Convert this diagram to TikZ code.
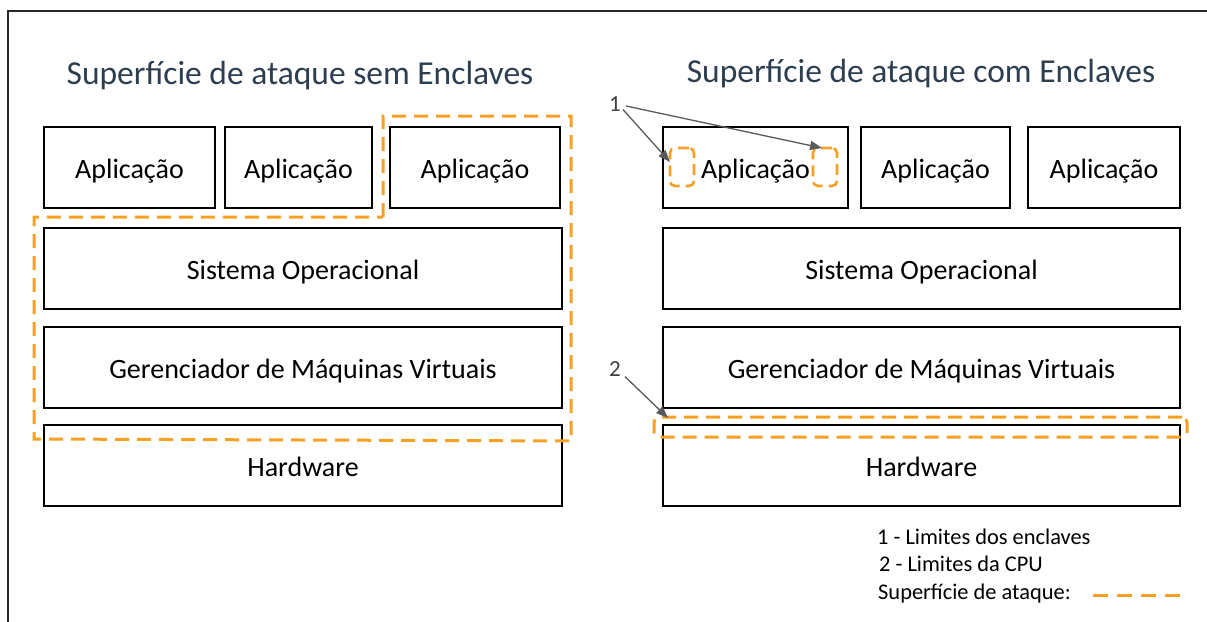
\documentclass[tikz,border=0pt]{standalone}
\usepackage{fontspec}
\setmainfont{Carlito}
\usetikzlibrary{arrows.meta}
\definecolor{attack}{RGB}{246,160,36}
\definecolor{titleblue}{RGB}{44,62,80}
\definecolor{pointer}{RGB}{90,90,90}
\definecolor{frame}{RGB}{40,40,40}
\begin{document}
\begin{tikzpicture}[x=1pt,y=-1pt,
  layer/.style={draw=black, line width=1.4pt, minimum width=#1, minimum height=81pt,
    inner sep=0pt, text height=21pt, text depth=0pt, font=\fontsize{28}{32}\selectfont},
  heading/.style={text=titleblue, inner sep=0pt, text height=24pt, text depth=0pt,
    font=\fontsize{33.5}{38}\selectfont},
  surface/.style={draw=attack, line width=3pt, dash pattern=on 14pt off 8pt},
  enclave/.style={draw=attack, line width=2.6pt, rounded corners=5pt,
    dash pattern=on 11pt off 6pt, minimum width=24pt, minimum height=38pt, inner sep=0pt},
  cpu/.style={draw=attack, line width=3pt, rounded corners=5pt,
    dash pattern=on 14pt off 8pt, minimum width=533pt, minimum height=20pt, inner sep=0pt},
  tag/.style={text=black!75, inner sep=0pt, font=\fontsize{23}{26}\selectfont},
  legend/.style={anchor=west, inner sep=0pt, text height=15pt, text depth=0pt,
    font=\fontsize{22.4}{26}\selectfont},
  pointer/.style={draw=pointer, line width=1.3pt, -{Triangle[length=12pt,width=9pt]}}
]
\clip (0,0) rectangle (1207,621);
\fill[white] (0,0) rectangle (1207,621);

% outer frame
\draw[frame, line width=1.6pt] (8,640) -- (8,11) -- (1230,11);

% left stack
\node[heading] (tl) at (300,72) {Superfície de ataque sem Enclaves};
\node[layer=171pt] (la1) at (129.5,167.5) {Aplicação};
\node[layer=147pt] (la2) at (298.5,167.5) {Aplicação};
\node[layer=170pt] (la3) at (475,167.5) {Aplicação};
\node[layer=518pt] (lso) at (303,268.5) {Sistema Operacional};
\node[layer=518pt] (lvm) at (303,367.5) {Gerenciador de Máquinas Virtuais};
\node[layer=518pt] (lhw) at (303,465.5) {Hardware};

% attack surface without enclaves
\draw[surface] (383,217) -- (383,116) -- (571,116) -- (571,441) -- (34,439) -- (34,217) -- cycle;

% right stack
\node[heading] (tr) at (921,70) {Superfície de ataque com Enclaves};
\node[layer=185pt] (ra1) at (755.5,167.5) {Aplicação};
\node[layer=149pt] (ra2) at (935.5,167.5) {Aplicação};
\node[layer=152pt] (ra3) at (1104,167.5) {Aplicação};
\node[layer=517pt] (rso) at (921.5,268.5) {Sistema Operacional};
\node[layer=517pt] (rvm) at (921.5,367.5) {Gerenciador de Máquinas Virtuais};
\node[layer=517pt] (rhw) at (921.5,465.5) {Hardware};

% enclave boundaries and CPU boundary
\node[enclave] (e1) at (682,167) {};
\node[enclave] (e2) at (825,167) {};
\node[cpu] (cpub) at (920.5,427) {};

% pointers
\node[tag] (n1) at (615,104) {1};
\node[tag] (n2) at (615,369) {2};
\coordinate (t1) at (670,162);
\coordinate (t2) at (822,148);
\coordinate (t3) at (668,418);
\draw[pointer] (n1.south east) ++(2,-2) coordinate (s1) -- (t1);
\draw[pointer] (n1.east) ++(5,2) coordinate (s2) -- (t2);
\draw[pointer] (n2.south east) ++(4,0) coordinate (s3) -- (t3);

% legend
\node[legend] (k1) at (877,537) {1 - Limites dos enclaves};
\node[legend] (k2) at (879,564) {2 - Limites da CPU};
\node[legend] (k3) at (878,592) {Superfície de ataque:};
\coordinate (d1) at (1093,595);
\coordinate (d2) at (1182,595);
\draw[surface, dash pattern=on 15pt off 9pt] (d1) -- (d2);
\end{tikzpicture}
\end{document}
